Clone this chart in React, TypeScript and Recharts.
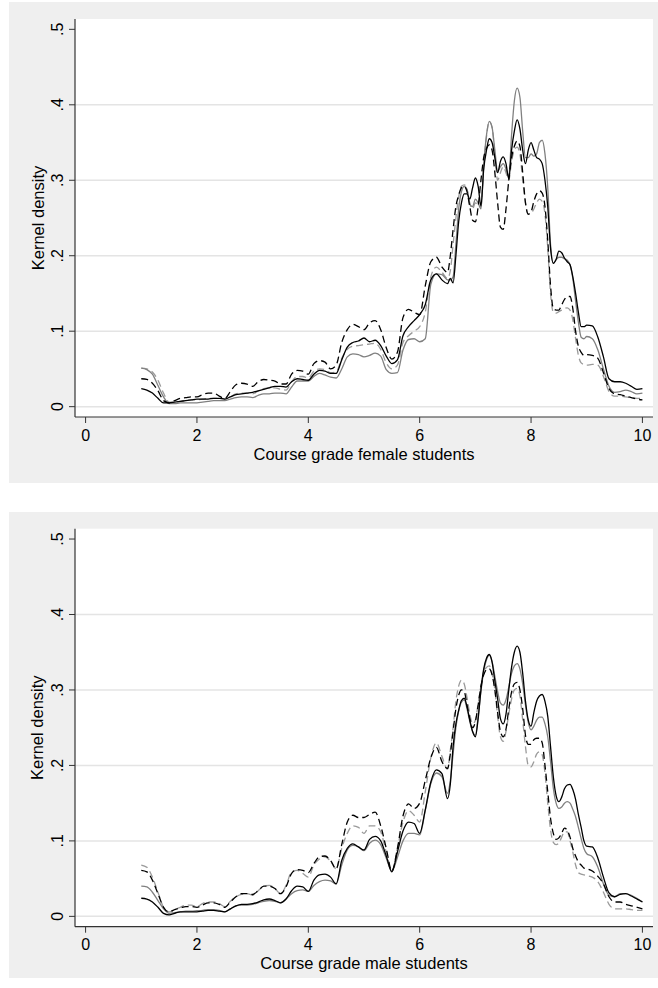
import React from 'react';
import { LineChart, Line, XAxis, YAxis, CartesianGrid } from 'recharts';

// Evaluation points of the kernel densities (course grade)
const grades = [
  1.0, 1.1, 1.2, 1.3, 1.4, 1.5, 1.6, 1.7, 1.8, 1.9,
  2.0, 2.1, 2.2, 2.3, 2.4, 2.5, 2.6, 2.7, 2.8, 2.9,
  3.0, 3.1, 3.2, 3.3, 3.4, 3.5, 3.6, 3.7, 3.8, 3.9,
  4.0, 4.1, 4.2, 4.3, 4.4, 4.5, 4.6, 4.7, 4.8, 4.9,
  5.0, 5.1, 5.2, 5.3, 5.4, 5.5, 5.6, 5.7, 5.8, 5.9,
  6.0, 6.1, 6.2, 6.3, 6.4, 6.5,
  6.55, 6.6, 6.65, 6.7, 6.75, 6.8, 6.85, 6.9, 6.95, 7.0,
  7.05, 7.1, 7.15, 7.2, 7.25, 7.3, 7.35, 7.4, 7.45, 7.5,
  7.55, 7.6, 7.65, 7.7, 7.75, 7.8, 7.85, 7.9, 7.95, 8.0,
  8.05, 8.1, 8.15, 8.2, 8.25, 8.3, 8.35, 8.4, 8.45, 8.5,
  8.55, 8.6, 8.65, 8.7, 8.75, 8.8, 8.85, 8.9, 8.95, 9.0,
  9.1, 9.2, 9.3, 9.4, 9.5, 9.6, 9.7, 9.8, 9.9, 10.0,
];

// Female students
const femaleBlack = [
  .024, .022, .018, .011, .005, .005, .006, .007, .008, .009,
  .010, .010, .010, .011, .011, .010, .013, .016, .017, .018,
  .019, .021, .023, .025, .027, .027, .026, .033, .037, .036,
  .035, .043, .048, .047, .044, .044, .062, .079, .085, .087,
  .091, .086, .088, .081, .067, .057, .062, .094, .106, .114,
  .122, .135, .168, .176, .168, .163,
  .170, .164, .200, .245, .270, .282, .282, .275, .290, .303,
  .292, .266, .315, .340, .355, .350, .330, .310, .325, .331,
  .322, .302, .340, .365, .380, .368, .340, .322, .340, .350,
  .340, .330, .328, .322, .300, .265, .210, .190, .195, .206,
  .204, .197, .192, .188, .172, .150, .125, .106, .106, .108,
  .107, .092, .066, .037, .033, .033, .031, .027, .023, .024,
];
const femaleGray = [
  .051, .049, .043, .028, .013, .004, .004, .005, .005, .005,
  .005, .006, .007, .008, .008, .008, .010, .012, .013, .013,
  .012, .015, .017, .017, .018, .018, .017, .026, .034, .034,
  .034, .040, .044, .042, .039, .038, .050, .066, .070, .069,
  .066, .068, .071, .067, .049, .044, .045, .075, .089, .090,
  .086, .090, .162, .176, .175, .168,
  .168, .172, .215, .262, .285, .292, .288, .268, .265, .275,
  .270, .262, .320, .360, .378, .370, .340, .312, .318, .322,
  .315, .305, .360, .405, .422, .410, .365, .330, .330, .335,
  .332, .335, .350, .353, .335, .290, .215, .190, .195, .198,
  .198, .196, .194, .188, .170, .140, .112, .092, .090, .093,
  .090, .075, .050, .027, .019, .020, .022, .020, .017, .018,
];
const femaleBlackDash = [
  .037, .036, .031, .021, .008, .005, .008, .011, .012, .013,
  .013, .016, .018, .018, .014, .011, .020, .029, .031, .030,
  .027, .033, .036, .035, .034, .030, .030, .043, .048, .047,
  .043, .057, .061, .059, .050, .055, .085, .102, .109, .106,
  .102, .111, .114, .102, .078, .063, .072, .118, .129, .125,
  .122, .160, .192, .198, .185, .178,
  .200, .235, .265, .280, .290, .292, .285, .265, .247, .245,
  .265, .300, .330, .342, .347, .340, .310, .270, .238, .235,
  .262, .300, .330, .345, .352, .345, .310, .270, .255, .258,
  .272, .282, .286, .283, .265, .220, .160, .130, .128, .128,
  .135, .142, .146, .146, .130, .100, .080, .072, .068, .069,
  .068, .064, .045, .024, .017, .016, .014, .012, .010, .009,
];
const femaleGrayDash = [
  .051, .050, .046, .035, .018, .006, .006, .007, .008, .009,
  .009, .010, .011, .011, .011, .010, .013, .017, .018, .018,
  .017, .021, .024, .025, .025, .023, .022, .033, .040, .040,
  .038, .047, .050, .049, .045, .046, .064, .076, .080, .081,
  .082, .083, .084, .076, .058, .050, .055, .085, .094, .100,
  .106, .125, .172, .185, .178, .170,
  .180, .215, .250, .278, .292, .294, .288, .270, .262, .270,
  .268, .265, .320, .358, .378, .370, .335, .300, .310, .318,
  .310, .300, .325, .340, .344, .335, .300, .270, .255, .256,
  .262, .270, .275, .272, .255, .210, .150, .125, .124, .126,
  .128, .130, .131, .128, .115, .090, .068, .058, .056, .055,
  .056, .055, .040, .020, .014, .014, .013, .012, .011, .011,
];

// Male students
const maleBlack = [
  .024, .023, .019, .012, .004, .002, .004, .006, .006, .006,
  .006, .007, .008, .008, .007, .006, .010, .014, .016, .016,
  .017, .019, .022, .023, .021, .018, .023, .034, .040, .039,
  .033, .048, .055, .056, .052, .043, .074, .090, .096, .092,
  .088, .102, .106, .100, .080, .059, .085, .113, .125, .123,
  .110, .141, .178, .194, .189, .156,
  .175, .225, .255, .273, .286, .289, .278, .260, .245, .238,
  .262, .300, .328, .342, .347, .337, .312, .288, .262, .255,
  .268, .300, .330, .350, .358, .350, .322, .285, .260, .252,
  .270, .285, .292, .294, .285, .265, .225, .185, .160, .152,
  .158, .169, .174, .175, .168, .155, .135, .118, .100, .093,
  .092, .077, .052, .031, .026, .029, .030, .027, .023, .019,
];
const maleGray = [
  .040, .039, .032, .021, .010, .004, .005, .006, .007, .007,
  .0075, .008, .009, .009, .008, .006, .010, .014, .015, .015,
  .016, .018, .020, .021, .020, .018, .023, .030, .034, .035,
  .033, .041, .046, .048, .047, .043, .068, .088, .094, .092,
  .087, .097, .101, .095, .077, .060, .078, .100, .110, .110,
  .108, .140, .176, .190, .185, .163,
  .180, .215, .250, .272, .284, .287, .275, .258, .245, .240,
  .265, .298, .325, .340, .346, .338, .318, .298, .283, .280,
  .287, .304, .322, .332, .335, .328, .308, .280, .257, .247,
  .252, .260, .264, .264, .255, .238, .205, .170, .150, .143,
  .145, .150, .152, .150, .142, .132, .118, .103, .090, .083,
  .079, .065, .043, .028, .026, .030, .030, .028, .024, .019,
];
const maleBlackDash = [
  .061, .059, .048, .030, .012, .006, .009, .011, .013, .013,
  .012, .015, .018, .018, .016, .012, .019, .026, .030, .030,
  .029, .034, .040, .040, .037, .030, .039, .057, .062, .061,
  .058, .070, .079, .080, .074, .063, .095, .125, .134, .131,
  .131, .135, .138, .120, .090, .060, .090, .133, .149, .143,
  .150, .180, .210, .224, .205, .196,
  .215, .245, .275, .293, .300, .298, .280, .262, .250, .258,
  .280, .305, .320, .327, .328, .320, .300, .270, .245, .238,
  .248, .275, .297, .308, .310, .300, .275, .240, .228, .228,
  .234, .236, .236, .230, .200, .165, .130, .110, .102, .104,
  .110, .117, .114, .105, .090, .080, .072, .068, .064, .063,
  .060, .053, .043, .026, .019, .019, .016, .014, .012, .010,
];
const maleGrayDash = [
  .068, .065, .052, .032, .012, .006, .009, .012, .015, .015,
  .013, .017, .019, .019, .017, .013, .020, .026, .029, .030,
  .028, .034, .040, .041, .037, .030, .041, .059, .061, .057,
  .052, .068, .076, .079, .073, .063, .090, .110, .120, .118,
  .110, .120, .120, .112, .085, .060, .090, .125, .140, .134,
  .125, .165, .210, .230, .212, .195,
  .220, .250, .285, .305, .313, .308, .290, .268, .255, .260,
  .282, .305, .322, .330, .332, .322, .300, .265, .238, .232,
  .245, .268, .288, .300, .302, .292, .260, .225, .200, .198,
  .205, .215, .218, .214, .190, .150, .115, .098, .095, .097,
  .105, .112, .112, .100, .085, .068, .058, .056, .055, .054,
  .052, .046, .032, .016, .010, .010, .010, .009, .008, .008,
];

const xTicks = [0, 2, 4, 6, 8, 10];
const yTicks = [0, 0.1, 0.2, 0.3, 0.4, 0.5];
const gridValues = [0, 0.1, 0.2, 0.3, 0.4];

const FONT = '"Liberation Sans", Arial, Helvetica, sans-serif';

const buildRows = (b: number[], g: number[], bd: number[], gd: number[]) =>
  grades.map((x, i) => ({ x, b: b[i], g: g[i], bd: bd[i], gd: gd[i] }));

const femaleRows = buildRows(femaleBlack, femaleGray, femaleBlackDash, femaleGrayDash);
const maleRows = buildRows(maleBlack, maleGray, maleBlackDash, maleGrayDash);

const fmtY = (v: number) => (v === 0 ? '0' : '.' + Math.round(v * 10));

type PanelProps = {
  rows: any[];
  title: string;
  top: number;
  height: number;
  marginTop: number;
  xAxisHeight: number;
};

const W = 649;
const Y_AXIS_W = 66;

function Panel({ rows, title, top, height, marginTop, xAxisHeight }: PanelProps) {
  const plotBottom = height - xAxisHeight;
  const plotTop = marginTop;
  const plotMid = (plotTop + plotBottom) / 2;
  const plotCenterX = (Y_AXIS_W + (W - 5)) / 2;

  const YTick = (p: any) => {
    const y = p.y;
    const x = 54;
    return (
      <text
        x={x}
        y={y}
        transform={`rotate(-90 ${x} ${y})`}
        textAnchor="middle"
        fontSize={16}
        fontFamily={FONT}
        fill="#000"
      >
        {fmtY(p.payload.value)}
      </text>
    );
  };
  const XTick = (p: any) => (
    <text
      x={p.x}
      y={plotBottom + 23.5}
      textAnchor="middle"
      fontSize={16}
      fontFamily={FONT}
      fill="#000"
    >
      {p.payload.value}
    </text>
  );
  const XTitle = () => (
    <text
      x={plotCenterX}
      y={plotBottom + 42.5}
      textAnchor="middle"
      fontSize={16.5}
      fontFamily={FONT}
      fill="#000"
    >
      {title}
    </text>
  );
  const YTitle = () => (
    <text
      x={34.5}
      y={plotMid}
      transform={`rotate(-90 34.5 ${plotMid})`}
      textAnchor="middle"
      fontSize={16.5}
      fontFamily={FONT}
      fill="#000"
    >
      Kernel density
    </text>
  );

  return (
    <div
      style={{
        position: 'absolute',
        left: 9,
        top,
        width: W,
        height,
        background: '#efefef',
      }}
    >
      <LineChart
        width={W}
        height={height}
        data={rows}
        margin={{ top: marginTop, right: 5, bottom: 0, left: 0 }}
      >
        <CartesianGrid
          vertical={false}
          horizontalValues={gridValues}
          stroke="#e4e4e4"
          strokeWidth={1.5}
          fill="#ffffff"
          fillOpacity={1}
        />
        <XAxis
          dataKey="x"
          type="number"
          domain={[-0.19, 10.19]}
          ticks={xTicks}
          interval={0}
          height={xAxisHeight}
          tick={<XTick />}
          tickSize={6}
          tickLine={{ stroke: '#333' }}
          axisLine={{ stroke: '#333', strokeWidth: 1.2 }}
          allowDataOverflow
          label={<XTitle />}
        />
        <YAxis
          type="number"
          domain={[-0.0137, 0.5137]}
          ticks={yTicks}
          interval={0}
          width={Y_AXIS_W}
          tick={<YTick />}
          tickSize={6}
          tickLine={{ stroke: '#333' }}
          axisLine={{ stroke: '#333', strokeWidth: 1.2 }}
          allowDataOverflow
          label={<YTitle />}
        />
        <Line
          type="monotone"
          dataKey="gd"
          stroke="#9a9a9a"
          strokeWidth={1.3}
          strokeDasharray="7 4"
          dot={false}
          isAnimationActive={false}
        />
        <Line
          type="monotone"
          dataKey="g"
          stroke="#808080"
          strokeWidth={1.3}
          dot={false}
          isAnimationActive={false}
        />
        <Line
          type="monotone"
          dataKey="bd"
          stroke="#000000"
          strokeWidth={1.3}
          strokeDasharray="7 4"
          dot={false}
          isAnimationActive={false}
        />
        <Line
          type="monotone"
          dataKey="b"
          stroke="#000000"
          strokeWidth={1.3}
          dot={false}
          isAnimationActive={false}
        />
      </LineChart>
    </div>
  );
}

export default function App() {
  return (
    <div
      style={{
        position: 'absolute',
        left: 0,
        top: 0,
        width: 658,
        height: 988,
        background: '#ffffff',
        overflow: 'hidden',
      }}
    >
      <Panel
        rows={femaleRows}
        title="Course grade female students"
        top={2}
        height={481}
        marginTop={17}
        xAxisHeight={66}
      />
      <Panel
        rows={maleRows}
        title="Course grade male students"
        top={512}
        height={466}
        marginTop={16.7}
        xAxisHeight={51.3}
      />
    </div>
  );
}
